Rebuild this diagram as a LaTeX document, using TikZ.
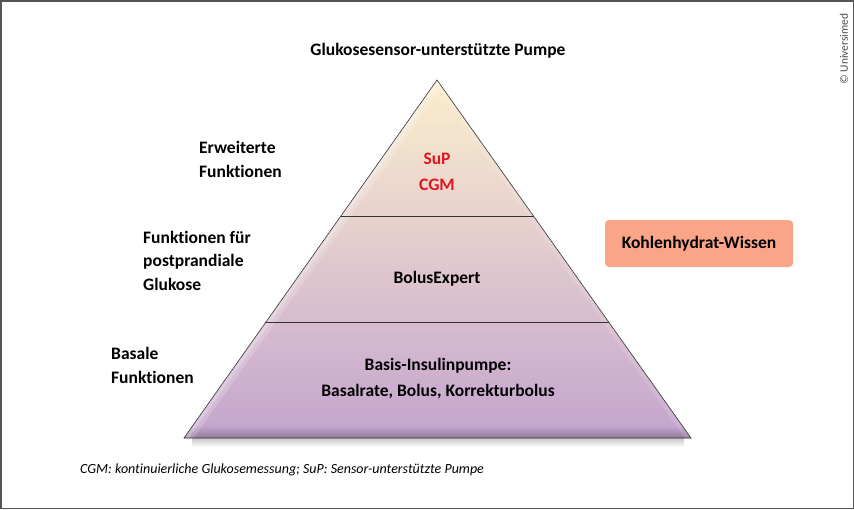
\documentclass[tikz,border=0pt]{standalone}
\usepackage{fontspec}
\setmainfont[Ligatures=NoCommon]{Carlito}
\definecolor{pyrtop}{RGB}{252,238,205}
\definecolor{pyrmid}{RGB}{230,200,188}
\definecolor{pyrbot}{RGB}{196,164,206}
\definecolor{pyrdark}{RGB}{148,124,158}
\definecolor{frameclr}{RGB}{85,85,85}
\definecolor{supred}{RGB}{226,20,30}
\definecolor{salmon}{RGB}{250,165,135}
\begin{document}
\begin{tikzpicture}[x=1pt,y=-1pt,
  lbl/.style={font=\bfseries\fontsize{17.5}{23.5}\selectfont, align=left, anchor=base west, inner sep=0pt},
  inlbl/.style={font=\bfseries\fontsize{17.5}{25.5}\selectfont, align=center, anchor=base, inner sep=0pt},
  outline/.style={draw=black!80, line width=0.6pt}]
\useasboundingbox (0,0) rectangle (854,509);
\draw[frameclr, line width=1.5pt] (0.75,0.75) rectangle (853.25,508.25);

% pyramid geometry
\coordinate (apex) at (437,80);
\coordinate (bl) at (184,438);
\coordinate (br) at (691,438);
\coordinate (d1l) at (340.5,216);
\coordinate (d1r) at (533.5,216);
\coordinate (d2l) at (265,322);
\coordinate (d2r) at (609,322);

% shadow
\shade[top color=black!22, bottom color=white] (192,438) rectangle (684,447);

\begin{scope}
  \clip (apex) -- (br) -- (bl) -- cycle;
  \shade[top color=pyrtop, middle color=pyrmid, bottom color=pyrbot] (180,80) rectangle (700,438);
  \shade[top color=pyrbot, bottom color=pyrdark] (180,426) rectangle (700,438);
  \draw[white, opacity=0.18, line width=16pt] (apex) -- (bl);
  \draw[white, opacity=0.22, line width=8pt] (apex) -- (bl);
  \draw[white, opacity=0.12, line width=10pt] (apex) -- (br);
\end{scope}
\draw[outline] (apex) -- (br) -- (bl) -- cycle;
\draw[outline] (d1l) -- (d1r);
\draw[outline] (d2l) -- (d2r);

% texts
\node[font=\bfseries\fontsize{17.5}{20}\selectfont, anchor=base, inner sep=0pt] (title) at (438,55) {Glukosesensor-unterstützte Pumpe};
\node[lbl] (erw) at (199,177) {Erweiterte\\Funktionen};
\node[lbl] (post) at (143,290) {Funktionen für\\postprandiale\\Glukose};
\node[lbl] (bas) at (111,383) {Basale\\Funktionen};
\node[inlbl, text=supred] (sup) at (437,190) {SuP\\CGM};
\node[inlbl] (bolus) at (437,283) {BolusExpert};
\node[inlbl] (basis) at (438,396) {Basis-Insulinpumpe:\\Basalrate, Bolus, Korrekturbolus};
\node[fill=salmon, rounded corners=4pt, minimum width=188pt, minimum height=47pt, inner sep=0pt,
      font=\bfseries\fontsize{17.5}{20}\selectfont] (kh) at (699,243.5) {Kohlenhydrat-Wissen};
\node[font=\itshape\fontsize{14}{16}\selectfont, anchor=base west, inner sep=0pt] (foot) at (80,473)
  {CGM: kontinuierliche Glukosemessung; SuP: Sensor-unterstützte Pumpe};
\node[rotate=90, font=\fontsize{11.5}{13}\selectfont, text=black!70, inner sep=0pt] (copy) at (844,49) {© Universimed};
\end{tikzpicture}
\end{document}
